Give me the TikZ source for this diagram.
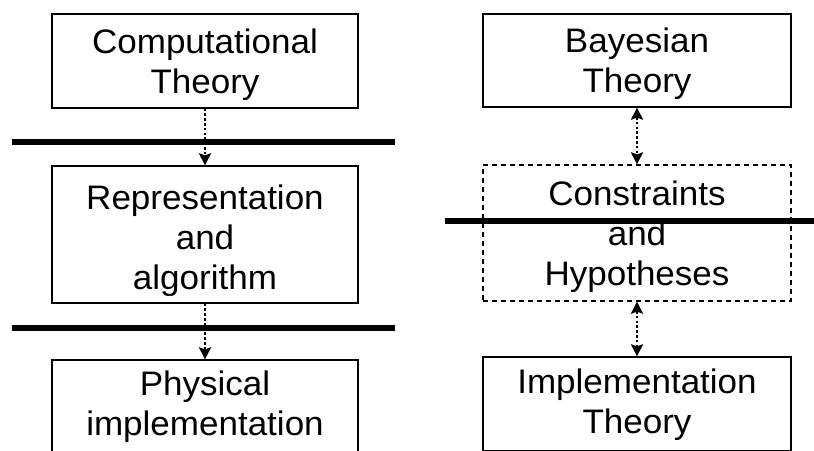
\documentclass[tikz,border=0pt]{standalone}
\usepackage{fontspec}
\setmainfont[FakeStretch=1.03]{Liberation Sans}
\usetikzlibrary{arrows.meta}
\begin{document}
\begin{tikzpicture}[x=1pt,y=-1pt,
  box/.style={draw, line width=1.3pt, minimum width=306pt, inner sep=0pt},
  dbox/.style={box, dash pattern=on 5pt off 4pt},
  txt/.style={align=center, inner sep=0pt, font=\fontsize{34}{40}\selectfont},
  bar/.style={line width=5.5pt},
  link/.style={line width=2.4pt, dash pattern=on 2.6pt off 2.2pt, {Stealth[width=12pt,length=12pt,inset=2pt]}-{Stealth[width=12pt,length=12pt,inset=2pt]}},
  flow/.style={line width=2.4pt, dash pattern=on 2.6pt off 2.2pt, -{Stealth[width=12pt,length=12pt,inset=2pt]}}]
\useasboundingbox (0,0) rectangle (814,450);
\clip (0,0) rectangle (814,450);
\fill[white] (0,0) rectangle (814,450);
% left column
\node[box, minimum height=94pt, label={[txt, yshift=-4pt, name=compt]center:Computational\\Theory}] (comp) at (205,61) {};
\node[box, minimum height=137pt, label={[txt, yshift=-6pt, name=reprt]center:Representation\\and\\algorithm}] (repr) at (205,234.5) {};
\node[box, minimum height=94pt, label={[txt, yshift=0pt, name=physt]center:Physical\\implementation}] (phys) at (205,407) {};
\draw[bar] (12,142) -- (395,142);
\draw[bar] (12,328) -- (395,328);
\draw[flow] (comp.south) -- (repr.north);
\draw[flow] (repr.south) -- (phys.north);
% right column
\node[box, minimum width=308pt, minimum height=93pt, label={[txt, yshift=-3pt, name=bayest]center:Bayesian\\Theory}] (bayes) at (637,60.5) {};
\node[dbox, minimum width=308pt, minimum height=136pt, label={[txt, yshift=-3.5pt, name=const]center:Constraints\\and\\Hypotheses}] (cons) at (637,233) {};
\node[box, minimum width=308pt, minimum height=94pt, label={[txt, yshift=-1pt, name=implt]center:Implementation\\Theory}] (impl) at (637,404) {};
\draw[bar] (445,221) -- (820,221);
\draw[link] (bayes.south) -- (cons.north);
\draw[link] (cons.south) -- (impl.north);
\end{tikzpicture}
\end{document}
